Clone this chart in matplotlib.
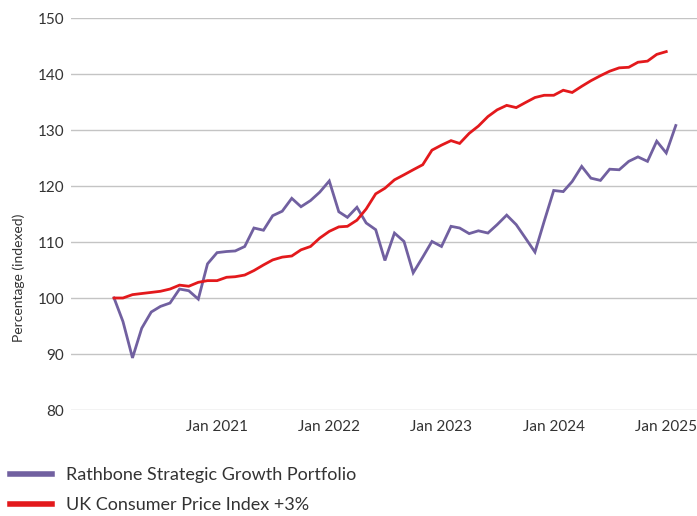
import matplotlib
matplotlib.use("Agg")
import matplotlib.pyplot as plt
import pandas as pd
import datetime as dt

plt.rcParams['font.family'] = ['Lato', 'DejaVu Sans']

# Monthly index values (Feb 2020 = 100)
portfolio_values = [
    100.0, 95.8, 89.3, 94.6, 97.5, 98.5, 99.1, 101.6, 101.3, 99.8,
    106.1, 108.1, 108.3, 108.4, 109.2, 112.5, 112.1, 114.7, 115.5, 117.8,
    116.3, 117.4, 118.9, 120.9, 115.4, 114.4, 116.2, 113.4, 112.2, 106.7,
    111.6, 110.1, 104.5, 107.3, 110.1, 109.2, 112.8, 112.5, 111.5, 112.0,
    111.6, 113.1, 114.8, 113.1, 110.7, 108.2, 113.7, 119.2, 119.0, 120.8,
    123.5, 121.4, 121.0, 123.0, 122.9, 124.4, 125.2, 124.4, 128.0, 125.9,
    130.8,
]
cpi_values = [
    100.0, 100.0, 100.6, 100.8, 101.0, 101.2, 101.6, 102.3, 102.1, 102.8,
    103.1, 103.1, 103.7, 103.8, 104.1, 104.9, 105.9, 106.8, 107.3, 107.5,
    108.6, 109.2, 110.7, 111.9, 112.7, 112.8, 113.9, 115.9, 118.6, 119.6,
    121.1, 122.0, 122.9, 123.8, 126.4, 127.3, 128.1, 127.6, 129.4, 130.7,
    132.4, 133.6, 134.4, 134.0, 134.9, 135.8, 136.2, 136.2, 137.1, 136.7,
    137.8, 138.8, 139.7, 140.5, 141.1, 141.2, 142.1, 142.3, 143.5, 144.0,
]
start_month = "2020-02-01"
series_labels = ["Rathbone Strategic Growth Portfolio", "UK Consumer Price Index +3%"]
tick_years = [2021, 2022, 2023, 2024, 2025]
y_ticks = [80, 90, 100, 110, 120, 130, 140, 150]

portfolio_dates = pd.date_range(start_month, periods=len(portfolio_values), freq="MS")
cpi_dates = pd.date_range(start_month, periods=len(cpi_values), freq="MS")

purple = "#7160a0"
red = "#e3191c"
text_col = "#333333"

fig = plt.figure(figsize=(6.97, 5.16), dpi=100)
ax = fig.add_axes([71/697, 1 - 410/516, 1 - 71/697, (410 - 18)/516])

ax.plot(portfolio_dates, portfolio_values, color=purple, lw=2.0, label=series_labels[0],
        solid_joinstyle="miter")
ax.plot(cpi_dates, cpi_values, color=red, lw=2.0, label=series_labels[1],
        solid_joinstyle="miter")

ax.set_ylim(80, 150)
ax.set_yticks(y_ticks)
ax.set_xlim(dt.datetime(2019, 9, 14), dt.datetime(2025, 4, 11))
ax.set_xticks([dt.datetime(y, 1, 1) for y in tick_years])
ax.set_xticklabels([f"Jan {y}" for y in tick_years])

ax.grid(axis="y", color="#c4c4c4", lw=1.0)
ax.grid(axis="x", visible=False)
ax.set_axisbelow(True)
for s in ax.spines.values():
    s.set_visible(False)
ax.tick_params(axis="both", length=0, labelsize=11, colors=text_col)
ax.tick_params(axis="y", pad=5)
ax.tick_params(axis="x", pad=7)

fig.text(19/697, 1 - 278/516, "Percentage (indexed)", rotation=90, ha="center", va="center",
         fontsize=10, color=text_col)

leg = fig.legend(loc="upper left", bbox_to_anchor=(10/697, 1 - 467/516), frameon=False,
                 fontsize=13, handlelength=2.35, handletextpad=0.75, labelspacing=0.8,
                 borderpad=0, borderaxespad=0)
for line in leg.get_lines():
    line.set_linewidth(4)
for t in leg.get_texts():
    t.set_color(text_col)

fig.savefig("out.png", dpi=100)
